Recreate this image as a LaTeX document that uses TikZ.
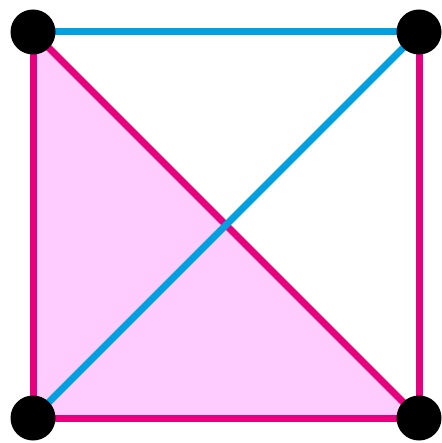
\documentclass[tikz,border=0pt]{standalone}
\definecolor{mag}{RGB}{230,0,126}
\definecolor{cya}{RGB}{0,160,225}
\definecolor{pinkfill}{RGB}{255,204,255}
\tikzset{
  vertex/.style={circle,fill=black,minimum size=45pt,inner sep=0pt},
  magline/.style={draw=mag,line width=7pt},
  cyaline/.style={draw=cya,line width=7pt}
}
\begin{document}
\begin{tikzpicture}[x=1pt,y=-1pt]
\useasboundingbox (0,0) rectangle (441,443);
\coordinate (pa) at (33,32);
\coordinate (pb) at (419,32);
\coordinate (pc) at (33,418);
\coordinate (pd) at (419,418);
\fill[pinkfill] (pa) -- (pd) -- (pc) -- cycle;
\draw[magline] (pa) -- (pc);
\draw[magline] (pc) -- (pd);
\draw[magline] (pb) -- (pd);
\draw[magline] (pa) -- (pd);
\draw[cyaline] (pa) -- (pb);
\draw[cyaline] (pc) -- (pb);
\node[vertex] (a) at (pa) {};
\node[vertex] (b) at (pb) {};
\node[vertex] (c) at (pc) {};
\node[vertex] (d) at (pd) {};
\end{tikzpicture}
\end{document}
